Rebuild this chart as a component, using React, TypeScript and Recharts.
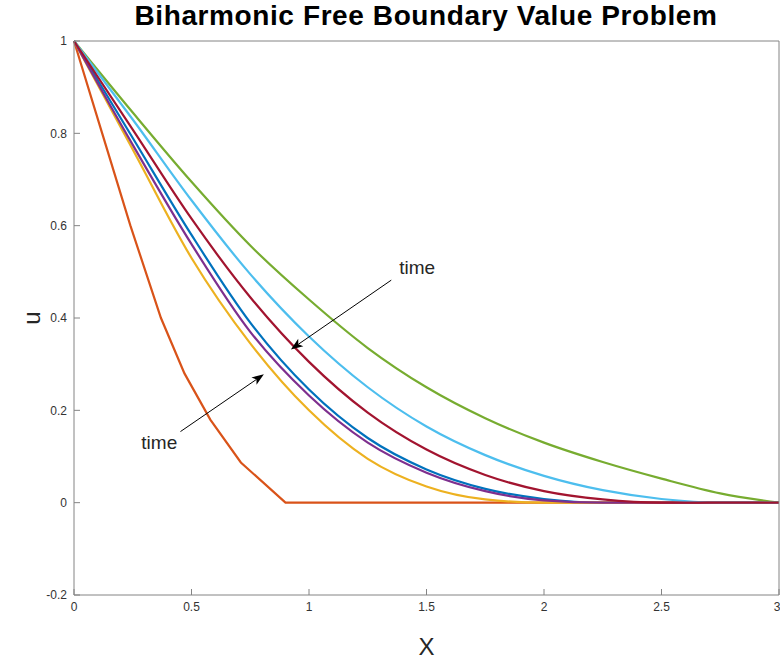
import {
  LineChart,
  Line,
  XAxis,
  YAxis,
  ReferenceLine,
  ReferenceDot,
} from "recharts";

// x grid used by the smooth curves
const xGrid = [0, 0.25, 0.5, 0.75, 1, 1.25, 1.5, 1.75, 2, 2.25, 2.5, 2.75, 3];

// values, one per x grid point
const blueU = [1, 0.79, 0.58, 0.39, 0.245, 0.14, 0.072, 0.03, 0.008, 0, 0, 0, 0];
const yellowU = [1, 0.765, 0.53, 0.345, 0.2, 0.095, 0.035, 0.007, 0, 0, 0, 0, 0];
const purpleU = [1, 0.775, 0.56, 0.37, 0.232, 0.13, 0.065, 0.025, 0.005, 0, 0, 0, 0];
const greenU = [1, 0.845, 0.695, 0.557, 0.44, 0.335, 0.25, 0.183, 0.13, 0.088, 0.052, 0.02, 0];
const lightBlueU = [1, 0.83, 0.655, 0.495, 0.36, 0.25, 0.165, 0.103, 0.058, 0.027, 0.008, 0, 0];
const darkRedU = [1, 0.808, 0.615, 0.445, 0.305, 0.195, 0.115, 0.06, 0.025, 0.007, 0, 0, 0];

// the early, coarse one (straight segments)
const orangeX = [0, 0.12, 0.24, 0.37, 0.47, 0.58, 0.71, 0.9, 3];
const orangeU = [1, 0.8, 0.6, 0.4, 0.28, 0.18, 0.087, 0, 0];

const xTicks = [0, 0.5, 1, 1.5, 2, 2.5, 3];
const yTicks = [-0.2, 0, 0.2, 0.4, 0.6, 0.8, 1];
const xTickLabels = ["0", "0.5", "1", "1.5", "2", "2.5", "3"];
const yTickLabels = ["-0.2", "0", "0.2", "0.4", "0.6", "0.8", "1"];

const toRows = (xs: number[], us: number[]) => xs.map((x, i) => ({ x, u: us[i] }));

const series = [
  { name: "blue", color: "#0072BD", rows: toRows(xGrid, blueU), type: "monotone" },
  { name: "orange", color: "#D95319", rows: toRows(orangeX, orangeU), type: "linear" },
  { name: "yellow", color: "#EDB120", rows: toRows(xGrid, yellowU), type: "monotone" },
  { name: "purple", color: "#7E2F8E", rows: toRows(xGrid, purpleU), type: "monotone" },
  { name: "green", color: "#77AC30", rows: toRows(xGrid, greenU), type: "monotone" },
  { name: "lightblue", color: "#4DBEEE", rows: toRows(xGrid, lightBlueU), type: "monotone" },
  { name: "darkred", color: "#A2142F", rows: toRows(xGrid, darkRedU), type: "monotone" },
];

// annotation arrows: tail -> head, in data units
const arrows = [
  { from: { x: 1.35, y: 0.482 }, to: { x: 0.923, y: 0.332 } },
  { from: { x: 0.453, y: 0.154 }, to: { x: 0.808, y: 0.278 } },
];
const notes = [
  { x: 1.46, y: 0.51, text: "time" },
  { x: 0.363, y: 0.13, text: "time" },
];

const FONT = '"Liberation Sans", Arial, Helvetica, sans-serif';
const AXIS = "#848484";

const Arrow = (p: any) => {
  const { x1, y1, x2, y2 } = p;
  const a = Math.atan2(y2 - y1, x2 - x1);
  const L = 12;
  const W = 4.5;
  const bx = x2 - L * Math.cos(a);
  const by = y2 - L * Math.sin(a);
  const px = -Math.sin(a) * W;
  const py = Math.cos(a) * W;
  const nx = x2 - (L - 3) * Math.cos(a);
  const ny = y2 - (L - 3) * Math.sin(a);
  return (
    <g>
      <line x1={x1} y1={y1} x2={nx} y2={ny} stroke="#000" strokeWidth={1} />
      <polygon
        points={`${x2},${y2} ${bx + px},${by + py} ${nx},${ny} ${bx - px},${by - py}`}
        fill="#000"
      />
    </g>
  );
};

const xTickFmt = (v: number) => xTickLabels[xTicks.indexOf(v)] ?? String(v);
const yTickFmt = (v: number) => yTickLabels[yTicks.indexOf(v)] ?? String(v);
const noLabel = () => <g />;

export default function App() {
  return (
    <div
      style={{
        position: "absolute",
        left: 0,
        top: 0,
        width: 780,
        height: 662,
        background: "#fff",
        fontFamily: FONT,
      }}
    >
      <div
        style={{
          position: "absolute",
          left: 0,
          width: 852,
          top: 0,
          textAlign: "center",
          fontWeight: "bold",
          fontSize: 28,
          letterSpacing: 0.6,
          color: "#000",
          whiteSpace: "nowrap",
        }}
      >
        Biharmonic Free Boundary Value Problem
      </div>
      <div
        style={{
          position: "absolute",
          left: 32,
          top: 318,
          transform: "translate(-50%, -50%) rotate(-90deg)",
          fontSize: 24,
          color: "#262626",
          lineHeight: 1,
        }}
      >
        u
      </div>
      <LineChart width={780} height={662} margin={{ top: 41, right: 1, bottom: 0, left: 0 }}>
        <XAxis
          xAxisId={0}
          dataKey="x"
          type="number"
          domain={[0, 3]}
          ticks={xTicks}
          tickFormatter={xTickFmt}
          height={67}
          tickSize={-6}
          tickMargin={13}
          allowDuplicatedCategory={false}
          stroke={AXIS}
          tick={{ fill: "#333", fontSize: 12, fontFamily: FONT }}
          label={{ value: "X", position: "insideBottom", offset: 7, fill: "#262626", fontSize: 24, fontFamily: FONT }}
        />
        <XAxis
          xAxisId="top"
          orientation="top"
          dataKey="x"
          type="number"
          domain={[0, 3]}
          ticks={xTicks}
          height={1}
          tickSize={6}
          mirror
          stroke={AXIS}
          tick={noLabel}
        />
        <YAxis
          yAxisId={0}
          type="number"
          domain={[-0.2, 1]}
          ticks={yTicks}
          tickFormatter={yTickFmt}
          width={74}
          tickSize={-6}
          tickMargin={13}
          stroke={AXIS}
          tick={{ fill: "#333", fontSize: 12, fontFamily: FONT }}
        />
        <YAxis
          yAxisId="right"
          orientation="right"
          type="number"
          domain={[-0.2, 1]}
          ticks={yTicks}
          width={1}
          tickSize={6}
          mirror
          stroke={AXIS}
          tick={noLabel}
        />
        {series.map((s) => (
          <Line
            key={s.name}
            data={s.rows}
            dataKey="u"
            type={s.type as any}
            stroke={s.color}
            strokeWidth={2.2}
            dot={false}
            activeDot={false}
            isAnimationActive={false}
          />
        ))}
        {arrows.map((a, i) => (
          <ReferenceLine key={`ar${i}`} segment={[a.from, a.to]} shape={Arrow} />
        ))}
        {notes.map((n, i) => (
          <ReferenceDot
            key={`nt${i}`}
            x={n.x}
            y={n.y}
            r={0}
            shape={(p: any) => (
              <text
                x={p.cx}
                y={p.cy}
                textAnchor="middle"
                dominantBaseline="central"
                fontSize={19}
                fontFamily={FONT}
                fill="#262626"
              >
                {n.text}
              </text>
            )}
          />
        ))}
      </LineChart>
    </div>
  );
}
